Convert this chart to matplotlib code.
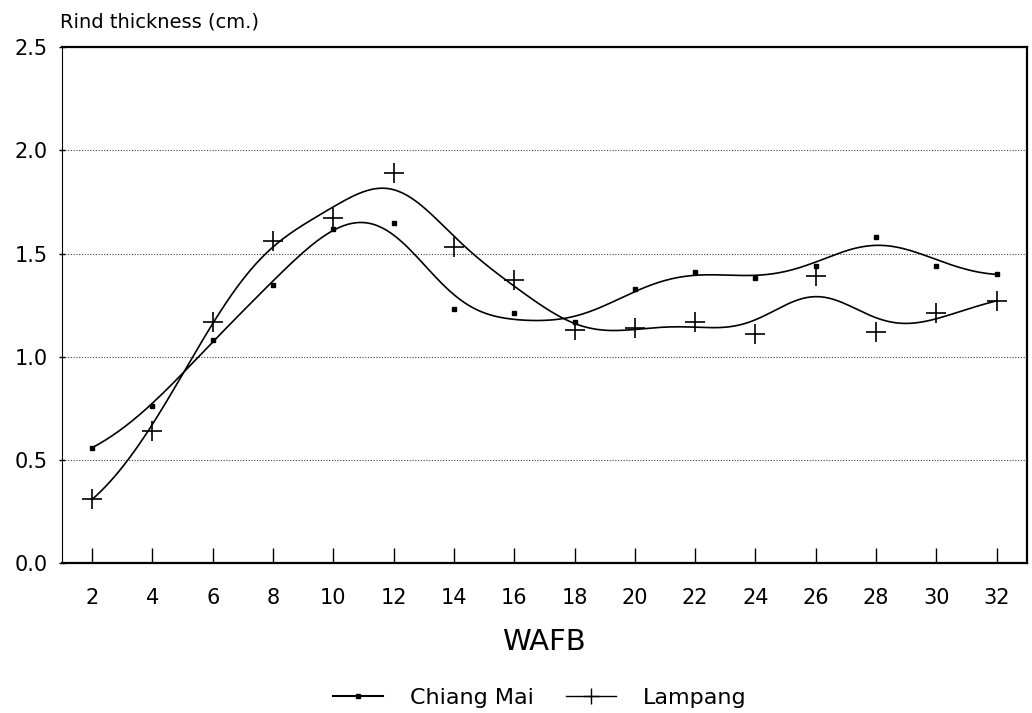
import numpy as np
import matplotlib
matplotlib.use("Agg")
import matplotlib.pyplot as plt

# weeks after full bloom
wafb = [2, 4, 6, 8, 10, 12, 14, 16, 18, 20, 22, 24, 26, 28, 30, 32]

# rind thickness (cm.)
chiang_mai = [0.56, 0.76, 1.08, 1.35, 1.62, 1.65, 1.23, 1.21,
              1.17, 1.33, 1.41, 1.38, 1.44, 1.58, 1.44, 1.40]
lampang = [0.31, 0.64, 1.17, 1.56, 1.67, 1.89, 1.53, 1.37,
           1.13, 1.14, 1.17, 1.11, 1.39, 1.12, 1.21, 1.27]

y_ticks = [0.0, 0.5, 1.0, 1.5, 2.0, 2.5]
y_labels = ["0.0", "0.5", "1.0", "1.5", "2.0", "2.5"]


def smooth(x, y, xs, bw=1.8):
    """ Local quadratic fit with gaussian weights,
    gives the fitted curve the old graph package drew."""
    x = np.asarray(x, float)
    y = np.asarray(y, float)
    out = np.empty(len(xs))
    for i, x0 in enumerate(xs):
        w = np.sqrt(np.exp(-0.5 * ((x - x0) / bw) ** 2))
        A = np.vstack([np.ones_like(x), x - x0, (x - x0) ** 2]).T
        coef = np.linalg.lstsq(A * w[:, None], y * w, rcond=None)[0]
        out[i] = coef[0]
    return out


plt.rcParams['font.family'] = ['DejaVu Sans']

fig = plt.figure(figsize=(10.32, 7.13), dpi=100)
ax = fig.add_axes([0.060, 0.210, 0.935, 0.724])

xs = np.linspace(wafb[0], wafb[-1], 400)
ax.plot(xs, smooth(wafb, chiang_mai, xs), color='black', lw=1.2)
ax.plot(xs, smooth(wafb, lampang, xs), color='black', lw=1.2)
ax.plot(wafb, chiang_mai, ls='none', marker='s', ms=3, color='black')
ax.plot(wafb, lampang, ls='none', marker='+', ms=15, mew=1.2, color='black')

# legend handles: line with marker in the middle
h1, = ax.plot([], [], color='black', lw=1.5, marker='s', ms=3)
h2, = ax.plot([], [], color='black', lw=1.0, marker='+', ms=12, mew=1.0)

ax.set_xlim(1, 33)
ax.set_ylim(0, 2.5)
ax.set_xticks(wafb)
ax.set_xticklabels([str(v) for v in wafb], fontsize=15)
ax.set_yticks(y_ticks)
ax.set_yticklabels(y_labels, fontsize=15)
ax.tick_params(axis='x', direction='in', length=11, width=1.0, pad=18)
ax.tick_params(axis='y', direction='inout', length=5, width=1.0, pad=8)

for v in y_ticks[1:-1]:
    ax.axhline(v, color='#444444', lw=0.8, ls=(0, (1, 1.5)), zorder=1)

for side in ['top', 'bottom', 'right']:
    ax.spines[side].set_linewidth(1.6)
ax.spines['left'].set_linewidth(0.8)

ax.set_xlabel("WAFB", fontsize=21, labelpad=14)
fig.text(60 / 1032, 1 - 22 / 713, "Rind thickness (cm.)", fontsize=14,
         ha='left', va='center')

fig.legend([h1, h2], ["Chiang Mai", "Lampang"], loc='center',
           bbox_to_anchor=(540 / 1032, 1 - 698 / 713), ncol=2, frameon=False,
           fontsize=16, handlelength=2.25, handletextpad=1.2,
           columnspacing=1.45, numpoints=1)

fig.savefig("out.png", dpi=100)
